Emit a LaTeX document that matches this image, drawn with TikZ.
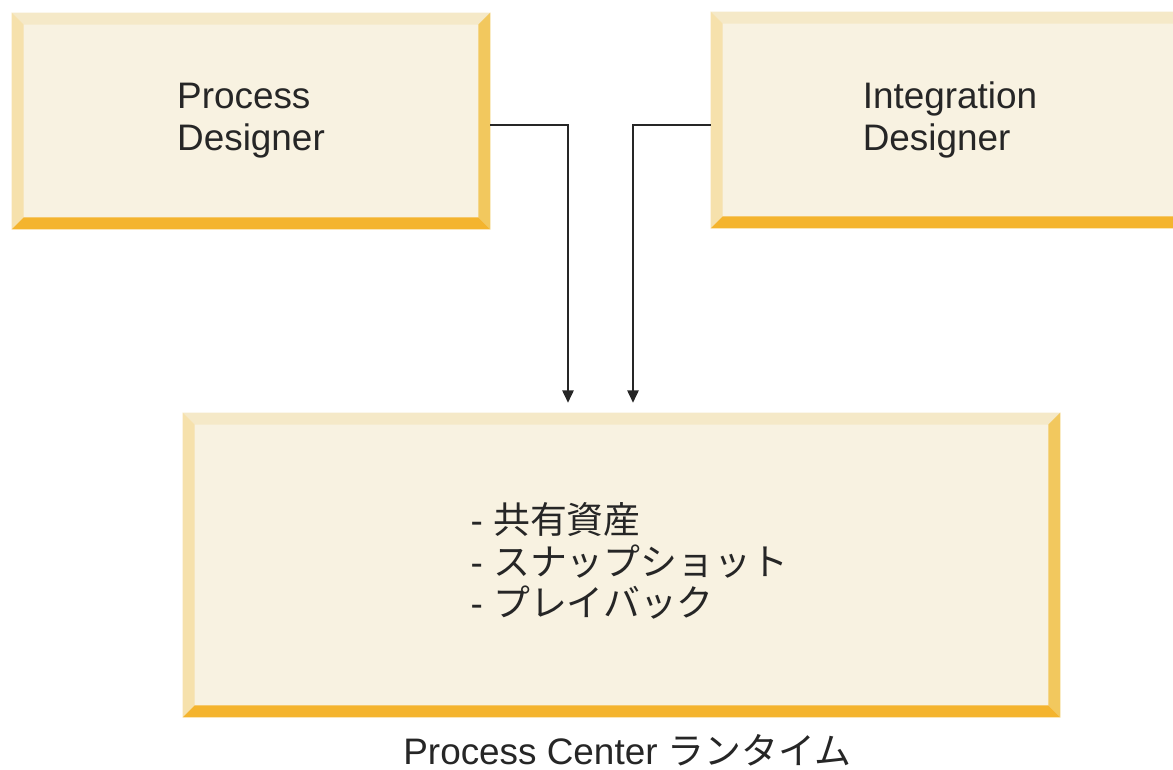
\documentclass[tikz,border=0pt]{standalone}
\usepackage{fontspec}
\setmainfont{Liberation Sans}
\newfontfamily\cjk{Noto Sans CJK JP}
\usetikzlibrary{arrows.meta, calc, positioning}
\definecolor{bxface}{HTML}{F8F2E1}
\definecolor{bxtop}{HTML}{F5E9C8}
\definecolor{bxleft}{HTML}{F6E1AC}
\definecolor{bxright}{HTML}{F2C85E}
\definecolor{bxbot}{HTML}{F4B42E}
\tikzset{%
    txt/.style={inner sep=0pt, align=left, text=black!85, font=\fontsize{21}{23.8}\selectfont},
    blk/.style={txt, rectangle, fill=bxface, minimum width=9.56cm, minimum height=4.32cm},
    blkb/.style={blk, minimum width=17.54cm, minimum height=6.08cm},
    cona/.style={line width=0.8pt, black!85, -{Triangle[length=7pt,width=6.5pt]}},
}
\newcommand{\bevel}[1]{%
    \fill[bxtop] (#1.north west) -- (#1.north east) -- ++(-12,12) -- ($(#1.north west)+(12,12)$) -- cycle;
    \fill[bxleft] (#1.north west) -- (#1.south west) -- ++(12,-12) -- ($(#1.north west)+(12,12)$) -- cycle;
    \fill[bxright] (#1.north east) -- (#1.south east) -- ++(-12,-12) -- ($(#1.north east)+(-12,12)$) -- cycle;
    \fill[bxbot] (#1.south west) -- (#1.south east) -- ++(-12,-12) -- ($(#1.south west)+(12,-12)$) -- cycle;
}
\begin{document}
\begin{tikzpicture}[x=0.02cm, y=-0.02cm]
    \useasboundingbox (0,0) rectangle (1173,770);
    \clip (0,0) rectangle (1173,770);
    \node [blk] (pd) at (251,121) {Process\\Designer};
    \node [blk] (id) at (950,120) {Integration\\Designer};
    \node [blkb] (pc) at (621.5,565) {};
    \bevel{pd}
    \bevel{id}
    \bevel{pc}
    \node [txt] (pcl) at ($(pc.center)+(8,-4)$) {- \cjk{共有資産}\\- \cjk{スナップショット}\\- \cjk{プレイバック}};
    \coordinate (ina) at ($(pc.north)+(-53.5,-10)$);
    \coordinate (inb) at ($(pc.north)+(11.5,-10)$);
    \draw [cona] ($(pd.east)+(0,4)$) -| (ina);
    \draw [cona] ($(id.west)+(0,5)$) -| (inb);
    \node [txt, anchor=base west] (cap) at (403,764) {Process Center \cjk{ランタイム}};
\end{tikzpicture}
\end{document}
